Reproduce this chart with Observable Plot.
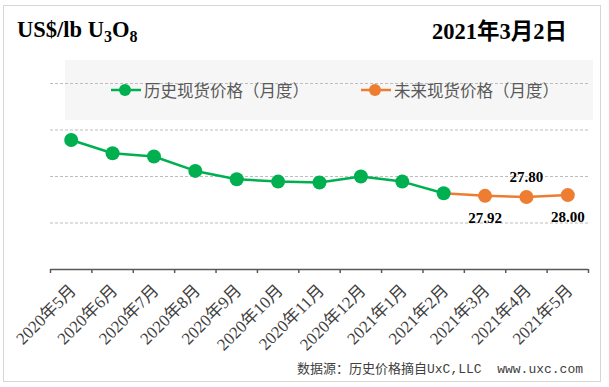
<!DOCTYPE html>
<html>
<head>
<meta charset="utf-8">
<script src="https://cdn.jsdelivr.net/npm/d3@7"></script>
<script src="https://cdn.jsdelivr.net/npm/@observablehq/plot@0.6"></script>
<style>
  html, body { margin: 0; padding: 0; background: #fff; }
  #wrap { position: relative; width: 609px; height: 387px; overflow: hidden; background: #fff; }
  .frame { position: absolute; left: 3px; top: 5px; width: 598px; height: 377px; border: 1.5px solid #d6d6d6; box-sizing: border-box; }
  .legendbg { position: absolute; left: 65px; top: 60px; width: 528px; height: 60px; background: #f6f6f6; }
  #chart { position: absolute; left: 0; top: 0; }
  .title { position: absolute; left: 17px; top: 17px; font: bold 22.5px "Liberation Serif", serif; color: #000; white-space: nowrap; }
  .title sub { font-size: 16px; vertical-align: -5px; line-height: 0; }
  .date { position: absolute; left: 432px; top: 13px; font: bold 22.5px "Liberation Serif", "Noto Sans CJK SC", serif; color: #000; white-space: nowrap; }
  .legend { position: absolute; left: 111px; top: 78px; display: flex; align-items: center; font: 16.5px "Noto Sans CJK SC", sans-serif; color: #595959; white-space: nowrap; }
  .legend .item { display: flex; align-items: center; }
  .legend .item + .item { margin-left: 52px; }
  .legend svg { margin-right: 3px; }
  .footer { position: absolute; left: 297px; top: 358px; font: 13px "Liberation Mono", "Noto Sans CJK SC", monospace; color: #404040; white-space: pre; }
</style>
</head>
<body>
<div id="wrap">
  <div class="frame"></div>
  <div class="legendbg"></div>
  <div id="chart"></div>
  <div class="title" id="title"></div>
  <div class="date" id="date"></div>
  <div class="legend" id="legend"></div>
  <div class="footer" id="footer"></div>
</div>
<script>
// ---- data ----
const months = ["2020年5月","2020年6月","2020年7月","2020年8月","2020年9月","2020年10月","2020年11月","2020年12月","2021年1月","2021年2月","2021年3月","2021年4月","2021年5月"];
const historyPrices = [33.93, 32.50, 32.15, 30.60, 29.70, 29.45, 29.35, 30.00, 29.45, 28.20];
const futurePrices = [27.92, 27.80, 28.00];
const seriesNames = ["历史现货价格（月度）", "未来现货价格（月度）"];
const gridValues = [25, 30, 35, 40];
const unitTitle = ["US$/lb U", "3", "O", "8"];
const dateText = "2021年3月2日";
const sourceText = "数据源：历史价格摘自UxC,LLC  www.uxc.com";

const green = "#00b050";
const orange = "#ed7d31";

// ---- tables ----
const hist = historyPrices.map((v, i) => ({i, v}));
const fut = futurePrices.map((v, k) => ({i: historyPrices.length + k, v}));
const futLine = [hist[hist.length - 1], ...fut];

const chart = Plot.plot({
  width: 609,
  height: 387,
  marginLeft: 50,
  marginRight: 21,
  marginTop: 83,
  marginBottom: 118,
  style: {background: "none", fontFamily: "'Liberation Serif', 'Noto Sans CJK SC', serif", overflow: "visible"},
  x: {domain: [-0.5, months.length - 0.5], axis: null, label: null},
  y: {domain: [20, 40], axis: null, label: null},
  marks: [
    Plot.gridY(gridValues, {stroke: "#bdbdbd", strokeOpacity: 1, strokeDasharray: "3,2", strokeWidth: 1}),
    Plot.ruleY([20], {stroke: "#595959", strokeWidth: 1.5}),
    Plot.axisX(d3.range(-0.5, months.length, 1), {tickSize: 4, tickFormat: () => "", label: null, stroke: "#595959", strokeWidth: 1.5}),
    Plot.axisX(d3.range(months.length), {
      tickSize: 0, tickPadding: 18, tickRotate: -45, dx: 2, label: null,
      tickFormat: i => months[i], fontSize: 17, fill: "#404040"
    }),
    Plot.line(hist, {x: "i", y: "v", stroke: green, strokeWidth: 2.5}),
    Plot.line(futLine, {x: "i", y: "v", stroke: orange, strokeWidth: 2.5}),
    Plot.dot(hist, {x: "i", y: "v", r: 7, fill: green}),
    Plot.dot(fut, {x: "i", y: "v", r: 7, fill: orange}),
    Plot.text(fut.filter((d, k) => k !== 1), {x: "i", y: "v", text: d => d3.format(".2f")(d.v), dy: 22, fontSize: 15, fontWeight: "bold", fill: "#000"}),
    Plot.text(fut.filter((d, k) => k === 1), {x: "i", y: "v", text: d => d3.format(".2f")(d.v), dy: -20, fontSize: 15, fontWeight: "bold", fill: "#000"})
  ]
});
document.getElementById("chart").appendChild(chart);

// title with subscripts
const t = document.getElementById("title");
t.append(unitTitle[0]);
const s1 = document.createElement("sub"); s1.textContent = unitTitle[1]; t.append(s1);
t.append(unitTitle[2]);
const s2 = document.createElement("sub"); s2.textContent = unitTitle[3]; t.append(s2);

document.getElementById("date").textContent = dateText;
document.getElementById("footer").textContent = sourceText;

// legend
const legend = document.getElementById("legend");
[[seriesNames[0], green], [seriesNames[1], orange]].forEach(([name, color]) => {
  const item = document.createElement("div");
  item.className = "item";
  item.innerHTML = `<svg width="30" height="14"><line x1="0" x2="30" y1="7" y2="7" stroke="${color}" stroke-width="2.5"/><circle cx="14" cy="7" r="6" fill="${color}"/></svg>`;
  const span = document.createElement("span");
  span.textContent = name;
  item.appendChild(span);
  legend.appendChild(item);
});
</script>
</body>
</html>
